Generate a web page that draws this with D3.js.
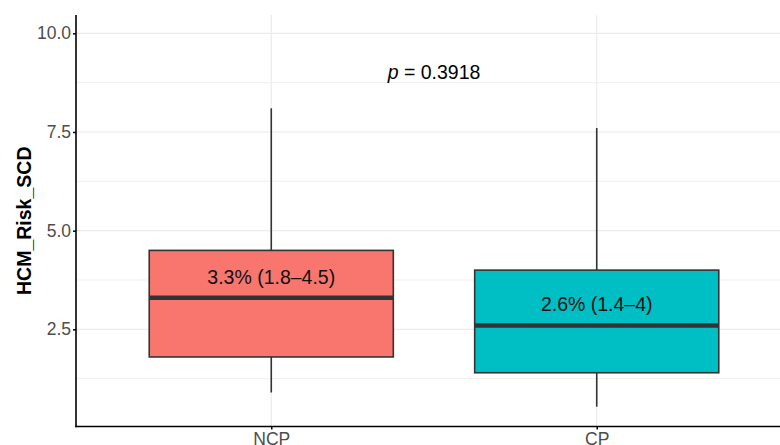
<!DOCTYPE html>
<html>
<head>
<meta charset="utf-8">
<script src="https://cdn.jsdelivr.net/npm/d3@7/dist/d3.min.js"></script>
<style>
  html, body { margin: 0; padding: 0; background: #ffffff; }
  svg { display: block; font-family: "Liberation Sans", Arial, sans-serif; }
</style>
</head>
<body>
<svg id="chart" width="780" height="445"></svg>
<script>
// Box summary per group
const groups  = ["NCP", "CP"];
const whiskerLow  = [0.9, 0.54];
const quartile1   = [1.8, 1.4];
const medians     = [3.3, 2.6];
const quartile3   = [4.5, 4.0];
const whiskerHigh = [8.1, 7.6];
const boxLabels   = ["3.3% (1.8\u20134.5)", "2.6% (1.4\u20134)"];
const fills       = ["#F8766D", "#00BFC4"];

const yTicks      = [2.5, 5.0, 7.5, 10.0];
const yMinorTicks = [1.25, 3.75, 6.25, 8.75];
const yDomain     = [0.038, 10.464];
const pValue      = "0.3918";
const yTitle      = "HCM_Risk_SCD";

const svg = d3.select("#chart");
const panel = { left: 76, right: 792, top: 15, bottom: 426.5 };

// discrete axis: positions 1..n with 0.6 padding on each side
const x = d3.scaleLinear().domain([0.4, groups.length + 0.6]).range([panel.left, panel.right]);
const y = d3.scaleLinear().domain(yDomain).range([panel.bottom, panel.top]);
const boxHalf = 0.375;

const data = groups.map((g, i) => ({
  name: g, pos: i + 1, lo: whiskerLow[i], q1: quartile1[i], med: medians[i],
  q3: quartile3[i], hi: whiskerHigh[i], label: boxLabels[i], fill: fills[i]
}));

// grid
const grid = svg.append("g");
grid.selectAll("line.minor").data(yMinorTicks).join("line")
  .attr("x1", panel.left).attr("x2", panel.right)
  .attr("y1", d => y(d)).attr("y2", d => y(d))
  .attr("stroke", "#EFEFEF").attr("stroke-width", 1);
grid.selectAll("line.major").data(yTicks).join("line")
  .attr("x1", panel.left).attr("x2", panel.right)
  .attr("y1", d => y(d)).attr("y2", d => y(d))
  .attr("stroke", "#EBEBEB").attr("stroke-width", 1.2);
grid.selectAll("line.vmajor").data(data).join("line")
  .attr("x1", d => x(d.pos)).attr("x2", d => x(d.pos))
  .attr("y1", panel.top).attr("y2", panel.bottom)
  .attr("stroke", "#EBEBEB").attr("stroke-width", 1.2);

// boxes
const box = svg.append("g").selectAll("g").data(data).join("g");
box.append("line")
  .attr("x1", d => x(d.pos)).attr("x2", d => x(d.pos))
  .attr("y1", d => y(d.hi)).attr("y2", d => y(d.q3))
  .attr("stroke", "#333333").attr("stroke-width", 1.6);
box.append("line")
  .attr("x1", d => x(d.pos)).attr("x2", d => x(d.pos))
  .attr("y1", d => y(d.q1)).attr("y2", d => y(d.lo))
  .attr("stroke", "#333333").attr("stroke-width", 1.6);
box.append("rect")
  .attr("x", d => x(d.pos - boxHalf))
  .attr("width", d => x(d.pos + boxHalf) - x(d.pos - boxHalf))
  .attr("y", d => y(d.q3))
  .attr("height", d => y(d.q1) - y(d.q3))
  .attr("fill", d => d.fill)
  .attr("stroke", "#333333").attr("stroke-width", 1.6);
box.append("line")
  .attr("x1", d => x(d.pos - boxHalf)).attr("x2", d => x(d.pos + boxHalf))
  .attr("y1", d => y(d.med)).attr("y2", d => y(d.med))
  .attr("stroke", "#333333").attr("stroke-width", 4.5);
box.append("text")
  .attr("x", d => x(d.pos))
  .attr("y", d => y(d.med) - 14)
  .attr("text-anchor", "middle")
  .attr("font-size", 19.5)
  .attr("fill", "#111111")
  .text(d => d.label);

// axes
const yAxis = d3.axisLeft(y).tickValues(yTicks).tickFormat(d3.format(".1f")).tickSize(3).tickPadding(2);
const gy = svg.append("g").attr("transform", `translate(${panel.left},0)`).call(yAxis);
gy.select(".domain").remove();
gy.selectAll(".tick line").attr("stroke", "#000").attr("stroke-width", 1.5);
gy.selectAll(".tick text").attr("fill", "#4D4D4D").attr("font-size", 17.5)
  .attr("font-family", "Liberation Sans, Arial, sans-serif");

const xBand = d3.scalePoint().domain(groups).range([x(1), x(groups.length)]);
const xAxis = d3.axisBottom(xBand).tickSize(3).tickPadding(3);
const gx = svg.append("g").attr("transform", `translate(0,${panel.bottom})`).call(xAxis);
gx.select(".domain").remove();
gx.selectAll(".tick line").attr("stroke", "#000").attr("stroke-width", 1.5);
gx.selectAll(".tick text").attr("fill", "#4D4D4D").attr("font-size", 17.5)
  .attr("font-family", "Liberation Sans, Arial, sans-serif");

svg.append("line").attr("x1", panel.left).attr("x2", panel.left)
  .attr("y1", panel.top).attr("y2", panel.bottom + 0.75)
  .attr("stroke", "#000").attr("stroke-width", 1.6);
svg.append("line").attr("x1", panel.left - 0.75).attr("x2", panel.right)
  .attr("y1", panel.bottom).attr("y2", panel.bottom)
  .attr("stroke", "#000").attr("stroke-width", 1.6);

// p-value annotation between the groups
const pt = svg.append("text")
  .attr("x", x((1 + groups.length) / 2))
  .attr("y", 78.5)
  .attr("text-anchor", "middle")
  .attr("font-size", 19.5)
  .attr("fill", "#000");
pt.append("tspan").attr("font-style", "italic").text("p");
pt.append("tspan").text(" = " + pValue);

// y title
svg.append("text")
  .attr("transform", `translate(31,${(panel.top + panel.bottom) / 2}) rotate(-90)`)
  .attr("text-anchor", "middle")
  .attr("font-size", 19.5)
  .attr("font-weight", "bold")
  .attr("fill", "#000")
  .text(yTitle);
</script>
</body>
</html>
